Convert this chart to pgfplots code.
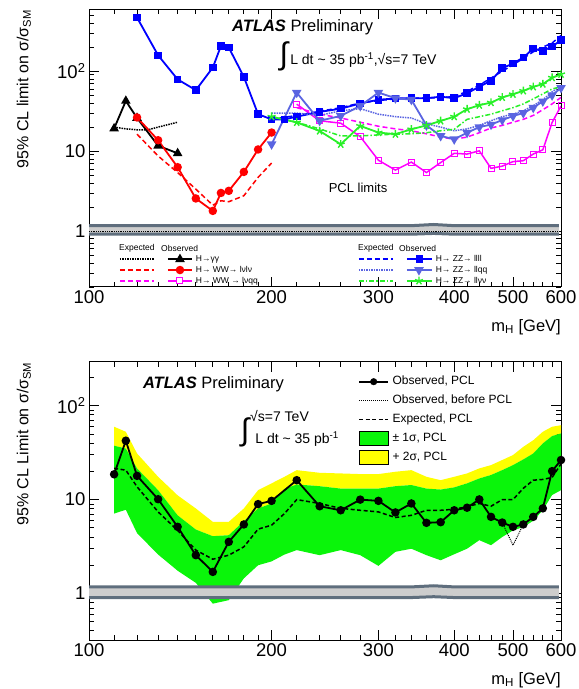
\documentclass[border=0pt]{standalone}
\usepackage{fontspec}
\setmainfont{Liberation Sans}
\usepackage{pgfplots}
\pgfplotsset{compat=1.18}
\definecolor{zzb}{RGB}{0,0,255}
\definecolor{llqq}{RGB}{90,100,225}
\definecolor{grn}{RGB}{40,240,40}
\definecolor{mag}{RGB}{255,0,255}
\definecolor{bandedge}{RGB}{95,110,125}
\definecolor{bandfill}{RGB}{205,205,205}
\definecolor{sigA}{RGB}{10,245,10}
\definecolor{sigB}{RGB}{255,255,0}
\tikzset{
  dsh/.style={dash pattern=on 5pt off 3pt},
  dshdot/.style={dash pattern=on 5pt off 2pt on 1.5pt off 2pt},
}
\begin{document}
\begin{tikzpicture}
\useasboundingbox (0,0) rectangle (579pt,689pt);
% ---------------- TOP PANEL ----------------
\begin{axis}[xmode=log, ymode=log, xmin=100, xmax=600,
    scale only axis, width=472pt, height=278pt,
    xtick={100,200,300,400,500,600},
    xticklabels={100,200,300,400,500,600},
    minor xtick={110,120,130,140,150,160,170,180,190,220,240,260,280,320,340,360,380,420,440,460,480,520,540,560,580},
    ytick={1,10,100}, yticklabels={1,10,10\textsuperscript{2}},
    tick label style={font=\fontsize{18.5}{18.5}\selectfont},
    major tick length=10pt, minor tick length=5pt,
    tick style={black, line width=0.8pt},
    axis line style={line width=1pt},
    xlabel style={at={(rel axis cs:1,-0.143)}, anchor=east, font=\fontsize{16.5}{16.5}\selectfont, inner sep=0pt},
    ylabel style={anchor=east, font=\fontsize{16}{16}\selectfont, inner sep=0pt, at={(rel axis cs:-0.138,0.997)}},
  at={(89pt,402pt)}, ymin=0.2, ymax=600,
  minor ytick={0.2,0.3,0.4,0.5,0.6,0.7,0.8,0.9,2,3,4,5,6,7,8,9,20,30,40,50,60,70,80,90,200,300,400,500,600},
  xlabel={m\textsubscript{H} [GeV]},
  ylabel={95\% CL limit on σ/σ\textsubscript{SM}},
  legend style={draw=none, fill=none, inner sep=0pt, column sep=0pt, row sep=0pt,
     font=\fontsize{8.5}{8.5}\selectfont,
     nodes={text height=6.5pt, text depth=2pt, inner ysep=1.15pt, inner xsep=3pt},
     at={(rel axis cs:0.0636,0.120)}, anchor=north west},
  legend cell align=left]
\addplot[draw=none, fill=bandfill, forget plot] coordinates {(100,1.17)(340,1.17)(370,1.21)(400,1.17)(595,1.17)(595,0.915)(400,0.915)(370,0.935)(340,0.915)(100,0.915)};
\addplot[bandedge, line width=3pt, forget plot] coordinates {(100,1.17)(340,1.17)(370,1.21)(400,1.17)(595,1.17)};
\addplot[bandedge, line width=3pt, forget plot] coordinates {(100,0.915)(340,0.915)(370,0.935)(400,0.915)(595,0.915)};
\addplot[black, densely dotted, line width=0.8pt, forget plot] coordinates {(100,1)(595,1)};
% gamma gamma
\addplot[black, densely dotted, line width=1.5pt, forget plot] coordinates {(110,20)(115,19)(120,18.5)(125,18.5)(130,20)(135,21.5)(140,23)};
\addplot[black, line width=1.8pt, mark=triangle*, mark size=3.8pt,
  legend image code/.code={\draw[black,densely dotted,line width=1.5pt] (0pt,0pt)--(34pt,0pt); \draw[black, line width=1.8pt] (48pt,0pt)--(72pt,0pt); \fill[black] (60pt,0pt) ++(90:3.8pt) -- ++(-120:6.58pt) -- ++(0:6.58pt) -- cycle;}]
  coordinates {(110,19.2)(115,42.5)(120,26)(130,11.7)(140,9.4)};
\addlegendentry{H→γγ}
% WW lvlv
\addplot[red, dsh, line width=1.5pt, forget plot] coordinates {(120,16.3)(130,8.7)(140,5.4)(150,3.35)(160,2.11)(165,2.4)(170,2.33)(180,2.77)(190,4.7)(200,7.1)};
\addplot[red, line width=1.8pt, mark=*, mark size=3.3pt,
  legend image code/.code={\draw[red,dsh,line width=1.5pt] (0pt,0pt)--(34pt,0pt); \draw[red, line width=1.8pt] (48pt,0pt)--(72pt,0pt); \fill[red] (60pt,0pt) circle (3.3pt);}]
  coordinates {(120,26.4)(130,13.7)(140,6.3)(150,2.56)(160,1.79)(165,3.0)(170,3.19)(180,5.5)(190,10.5)(200,17.1)};
\addlegendentry{H→ WW→ lνlν}
% WW lvqq
\addplot[mag, dsh, line width=1.5pt, forget plot] coordinates {(220,35)(240,29)(260,26)(280,23)(300,20.5)(320,19)(340,18)(360,16.5)(380,15)(400,14.1)(420,15)(440,17)(460,19.5)(480,21)(500,23)(520,25)(540,28)(560,33)(580,39)(600,47)};
\addplot[mag, line width=1.5pt, mark=square, mark size=3pt, mark options={fill=white, line width=1pt},
  legend image code/.code={\draw[mag,dsh,line width=1.5pt] (0pt,0pt)--(34pt,0pt); \draw[mag, line width=1.5pt] (48pt,0pt)--(72pt,0pt); \draw[mag, fill=white, line width=1pt] (57pt,-3pt) rectangle (63pt,3pt);}]
  coordinates {(220,38.7)(240,24)(260,22.4)(280,15.2)(300,7.7)(320,5.8)(340,7.3)(360,5.4)(380,7.2)(400,9.4)(420,9.2)(440,10.1)(460,6.1)(480,6.5)(500,7.4)(520,7.6)(540,9.2)(560,10.4)(580,22.8)(600,36.8)};
\addlegendentry{H→ WW → lνqq}
\node[anchor=west, inner sep=0pt, font=\fontsize{8.5}{8.5}\selectfont] at (rel axis cs:0.0636,0.1403) {Expected};
\node[anchor=west, inner sep=0pt, font=\fontsize{8.5}{8.5}\selectfont] at (rel axis cs:0.1525,0.1403) {Observed};
\node[anchor=west, inner sep=0pt, font=\fontsize{8.5}{8.5}\selectfont] at (rel axis cs:0.5699,0.1403) {Expected};
\node[anchor=west, inner sep=0pt, font=\fontsize{8.5}{8.5}\selectfont] at (rel axis cs:0.6568,0.1403) {Observed};
\node[anchor=west, inner sep=0pt, font=\fontsize{16.5}{16.5}\selectfont] at (rel axis cs:0.303,0.9335) {\textbf{\textit{ATLAS}} Preliminary};
\node[inner sep=0pt, font=\fontsize{31}{31}\selectfont] at (rel axis cs:0.413,0.829) {∫};
\node[anchor=west, inner sep=0pt, font=\fontsize{14}{14}\selectfont] at (rel axis cs:0.426,0.8165) {L dt \textasciitilde{} 35 pb\textsuperscript{-1},√s=7 TeV};
\node[inner sep=0pt, font=\fontsize{13}{13}\selectfont] at (rel axis cs:0.57,0.356) {PCL limits};
\end{axis}
% ZZ channels with second legend
\begin{axis}[xmode=log, ymode=log, xmin=100, xmax=600,
  scale only axis, width=472pt, height=278pt,
  at={(89pt,402pt)}, ymin=0.2, ymax=600, hide axis,
  legend style={draw=none, fill=none, inner sep=0pt, column sep=0pt, row sep=0pt,
     font=\fontsize{8.5}{8.5}\selectfont,
     nodes={text height=6.5pt, text depth=2pt, inner ysep=1.15pt, inner xsep=3pt},
     at={(rel axis cs:0.5699,0.120)}, anchor=north west},
  legend cell align=left]
\addplot[zzb, dsh, line width=1.5pt, forget plot] coordinates {(200,25)(220,28)(240,31.5)(260,35)(280,40)(300,43)(320,45)(340,46)(360,46)(380,47)(400,48)(420,56)(440,67)(460,82)(480,100)(500,120)(520,145)(540,175)(560,200)(580,225)(600,280)};
\addplot[zzb, line width=1.8pt, mark=square*, mark size=2.9pt,
  legend image code/.code={\draw[zzb,dsh,line width=1.5pt] (0pt,0pt)--(34pt,0pt); \draw[zzb, line width=1.8pt] (48pt,0pt)--(73pt,0pt); \fill[zzb] (57.6pt,-2.9pt) rectangle (63.4pt,2.9pt);}]
  coordinates {(120,469)(130,158)(140,79)(150,58)(160,111)(165,207)(170,198)(180,85)(190,29)(200,25)(210,25)(220,27)(240,31)(260,34)(280,39.5)(300,44)(320,45.6)(340,46)(360,46)(380,48)(400,46)(420,53)(440,64)(460,76)(480,109)(500,125)(520,148)(540,192)(560,179)(580,204)(600,244)};
\addlegendentry{H→ ZZ→ llll}
\addplot[llqq, densely dotted, line width=1.5pt, forget plot] coordinates {(200,30)(220,30)(240,28)(260,32)(280,34)(300,29)(320,27)(340,26)(360,22)(380,20)(400,18)(420,19)(440,21)(460,24)(480,27)(500,29)(520,32)(540,37)(560,44)(580,55)(600,66)};
\addplot[llqq, line width=1.8pt, mark=triangle*, mark size=3.8pt, mark options={rotate=180},
  legend image code/.code={\draw[llqq,densely dotted,line width=1.5pt] (0pt,0pt)--(34pt,0pt); \draw[llqq, line width=1.8pt] (48pt,0pt)--(73pt,0pt); \fill[llqq] (60pt,0pt) ++(-90:3.8pt) -- ++(60:6.58pt) -- ++(180:6.58pt) -- cycle;}]
  coordinates {(200,12.2)(220,54)(240,24)(260,27.6)(280,36.8)(300,54)(320,46)(340,44)(360,21)(380,15.5)(400,14.1)(420,17)(440,20)(460,21.5)(480,24.5)(500,27.5)(520,30)(540,35)(560,42)(580,50)(600,62)};
\addlegendentry{H→ ZZ→ llqq}
\addplot[grn, dshdot, line width=1.5pt, forget plot] coordinates {(200,27)(220,23)(240,19)(260,15.5)(280,15.5)(300,16)(320,16.3)(340,16.5)(360,17)(380,18)(400,18.8)(420,25)(440,27)(460,29)(480,32)(500,35)(520,39)(540,45)(560,52)(580,60)(600,64)};
\addplot[grn, line width=1.8pt, mark=star, mark size=4.2pt, mark options={line width=1.4pt},
  legend image code/.code={\draw[grn,dshdot,line width=1.5pt] (0pt,0pt)--(34pt,0pt); \draw[grn, line width=1.8pt] (48pt,0pt)--(73pt,0pt); \draw[grn, line width=1.4pt] (60pt,0pt)--++(90:4.2pt) (60pt,0pt)--++(162:4.2pt) (60pt,0pt)--++(234:4.2pt) (60pt,0pt)--++(306:4.2pt) (60pt,0pt)--++(18:4.2pt);}]
  coordinates {(200,27)(220,22.9)(240,17.9)(260,12.2)(280,20.7)(300,17.1)(320,16.3)(340,18.8)(360,21)(380,23.9)(400,27)(420,33.5)(440,37.6)(460,40.5)(480,47)(500,51.5)(520,56.8)(540,63.7)(560,69)(580,83)(600,91.6)};
\addlegendentry{H→ ZZ→ llνν}
\end{axis}
% ---------------- BOTTOM PANEL ----------------
\begin{axis}[xmode=log, ymode=log, xmin=100, xmax=600,
    scale only axis, width=472pt, height=278pt,
    xtick={100,200,300,400,500,600},
    xticklabels={100,200,300,400,500,600},
    minor xtick={110,120,130,140,150,160,170,180,190,220,240,260,280,320,340,360,380,420,440,460,480,520,540,560,580},
    ytick={1,10,100}, yticklabels={1,10,10\textsuperscript{2}},
    tick label style={font=\fontsize{18.5}{18.5}\selectfont},
    major tick length=10pt, minor tick length=5pt,
    tick style={black, line width=0.8pt},
    axis line style={line width=1pt},
    xlabel style={at={(rel axis cs:1,-0.143)}, anchor=east, font=\fontsize{16.5}{16.5}\selectfont, inner sep=0pt},
    ylabel style={anchor=east, font=\fontsize{16}{16}\selectfont, inner sep=0pt, at={(rel axis cs:-0.138,1.0)}},
  at={(89pt,49pt)}, ymin=0.32, ymax=292,
  minor ytick={0.4,0.5,0.6,0.7,0.8,0.9,2,3,4,5,6,7,8,9,20,30,40,50,60,70,80,90,200},
  xlabel={m\textsubscript{H} [GeV]},
  ylabel={95\% CL Limit on σ/σ\textsubscript{SM}},
  legend style={draw=none, fill=none, inner sep=0pt, column sep=0pt, row sep=0pt,
     font=\fontsize{12}{12}\selectfont,
     nodes={text height=9pt, text depth=2.5pt, inner ysep=3.75pt, inner xsep=3.5pt},
     at={(rel axis cs:0.57,0.964)}, anchor=north west},
  legend cell align=left]
\addplot[draw=none, fill=sigB, forget plot] coordinates {(110,59.7)(115,52.8)(120,31)(130,17.5)(140,11.1)(150,8.05)(160,5.8)(170,5.8)(180,8.05)(190,12.6)(200,14.9)(210,17.5)(220,20.6)(240,19.3)(260,19)(280,18.7)(300,18.7)(320,19.8)(340,20.6)(360,17.5)(380,16.1)(400,17.5)(420,19)(440,21.5)(460,23.3)(480,26.4)(500,29.8)(520,36.5)(540,42.9)(560,52.8)(580,59.7)(600,62)
 (600,50.7)(580,47.5)(560,39.7)(540,31)(520,26.8)(500,23.3)(480,20.6)(460,18.3)(440,16.8)(420,14.9)(400,13.5)(380,12.8)(360,13.1)(340,14.3)(320,13.9)(300,13.1)(280,13.1)(260,13.1)(240,13.9)(220,14.5)(210,13)(200,9.1)(190,8.05)(180,5.9)(170,4.18)(160,4.08)(150,4.8)(140,6.8)(130,12.6)(120,21.5)(115,35)(110,37.5)};
\addplot[draw=none, fill=sigA, forget plot] coordinates {(110,37.5)(115,35)(120,21.5)(130,12.6)(140,6.8)(150,4.8)(160,4.08)(170,4.18)(180,5.9)(190,8.05)(200,9.1)(210,13)(220,14.5)(240,13.9)(260,13.1)(280,13.1)(300,13.1)(320,13.9)(340,14.3)(360,13.1)(380,12.8)(400,13.5)(420,14.9)(440,16.8)(460,18.3)(480,20.6)(500,23.3)(520,26.8)(540,31)(560,39.7)(580,47.5)(600,50.7)
 (600,12.6)(580,11.2)(560,7.7)(540,5.95)(520,5.1)(500,4.7)(480,4.0)(460,3.27)(440,3.7)(420,3.0)(400,2.62)(380,2.26)(360,2.56)(340,3.0)(320,2.78)(300,1.97)(280,2.56)(260,2.9)(240,2.56)(220,2.9)(210,2.6)(200,2.2)(190,2.0)(180,1.45)(170,0.85)(160,0.78)(150,1.3)(140,1.75)(130,2.6)(120,4.4)(115,7.8)(110,7.1)};
\addplot[draw=none, fill=bandfill, forget plot] coordinates {(100,1.176)(340,1.176)(370,1.21)(400,1.176)(595,1.176)(595,0.906)(400,0.906)(370,0.925)(340,0.906)(100,0.906)};
\addplot[bandedge, line width=3pt, forget plot] coordinates {(100,1.176)(340,1.176)(370,1.21)(400,1.176)(595,1.176)};
\addplot[bandedge, line width=3pt, forget plot] coordinates {(100,0.906)(340,0.906)(370,0.925)(400,0.906)(595,0.906)};
\addplot[black, dash pattern=on 4pt off 2.5pt, line width=1.5pt, forget plot] coordinates {(110,21.5)(115,20.6)(120,13.7)(130,7.4)(140,4.7)(150,2.9)(160,2.32)(170,2.56)(180,3.14)(190,4.85)(200,5.34)(210,7.1)(220,10)(240,9.1)(260,8.07)(280,7.7)(300,7.4)(320,6.45)(340,6.8)(360,7.7)(380,7.7)(400,7.9)(420,8.4)(440,9.1)(460,8.5)(480,10)(500,10)(520,13.2)(540,16.1)(560,16.4)(580,17.2)(600,24)};
\addplot[black, densely dotted, line width=1pt, forget plot] coordinates {(480,5.7)(500,3.27)(520,5.44)};
\addplot[black, line width=1.8pt, mark=*, mark size=3.3pt, forget plot] coordinates {(110,18.6)(115,42.4)(120,17.9)(130,10.1)(140,5.13)(150,2.56)(160,1.7)(170,3.55)(180,5.44)(190,8.96)(200,9.7)(220,16.1)(240,8.5)(260,7.7)(280,10)(300,9.7)(320,7.3)(340,9.1)(360,5.66)(380,5.75)(400,7.7)(420,8.2)(440,10.05)(460,6.55)(480,5.7)(500,5.13)(520,5.44)(540,6.55)(560,8.07)(580,20.1)(600,26.4)};
\addlegendimage{legend image code/.code={\draw[black, line width=1.8pt] (0pt,0pt)--(29pt,0pt); \fill[black] (14.5pt,0pt) circle (3.3pt);}}
\addlegendentry{Observed, PCL}
\addlegendimage{legend image code/.code={\draw[black, densely dotted, line width=1pt] (0pt,0pt)--(29pt,0pt);}}
\addlegendentry{Observed, before PCL}
\addlegendimage{legend image code/.code={\draw[black, dash pattern=on 4pt off 2.5pt, line width=1.5pt] (0pt,0pt)--(29pt,0pt);}}
\addlegendentry{Expected, PCL}
\addlegendimage{legend image code/.code={\draw[fill=sigA, draw=black, line width=0.8pt] (0pt,-7pt) rectangle (29pt,7pt);}}
\addlegendentry{± 1σ, PCL}
\addlegendimage{legend image code/.code={\draw[fill=sigB, draw=black, line width=0.8pt] (0pt,-7pt) rectangle (29pt,7pt);}}
\addlegendentry{+ 2σ, PCL}
\node[anchor=west, inner sep=0pt, font=\fontsize{16.5}{16.5}\selectfont] at (rel axis cs:0.114,0.921) {\textbf{\textit{ATLAS}} Preliminary};
\node[inner sep=0pt, font=\fontsize{31}{31}\selectfont] at (rel axis cs:0.3305,0.748) {∫};
\node[anchor=west, inner sep=0pt, font=\fontsize{14}{14}\selectfont] at (rel axis cs:0.341,0.806) {√s=7 TeV};
\node[anchor=west, inner sep=0pt, font=\fontsize{14}{14}\selectfont] at (rel axis cs:0.352,0.723) {L dt \textasciitilde{} 35 pb\textsuperscript{-1}};
\end{axis}
\end{tikzpicture}
\end{document}
